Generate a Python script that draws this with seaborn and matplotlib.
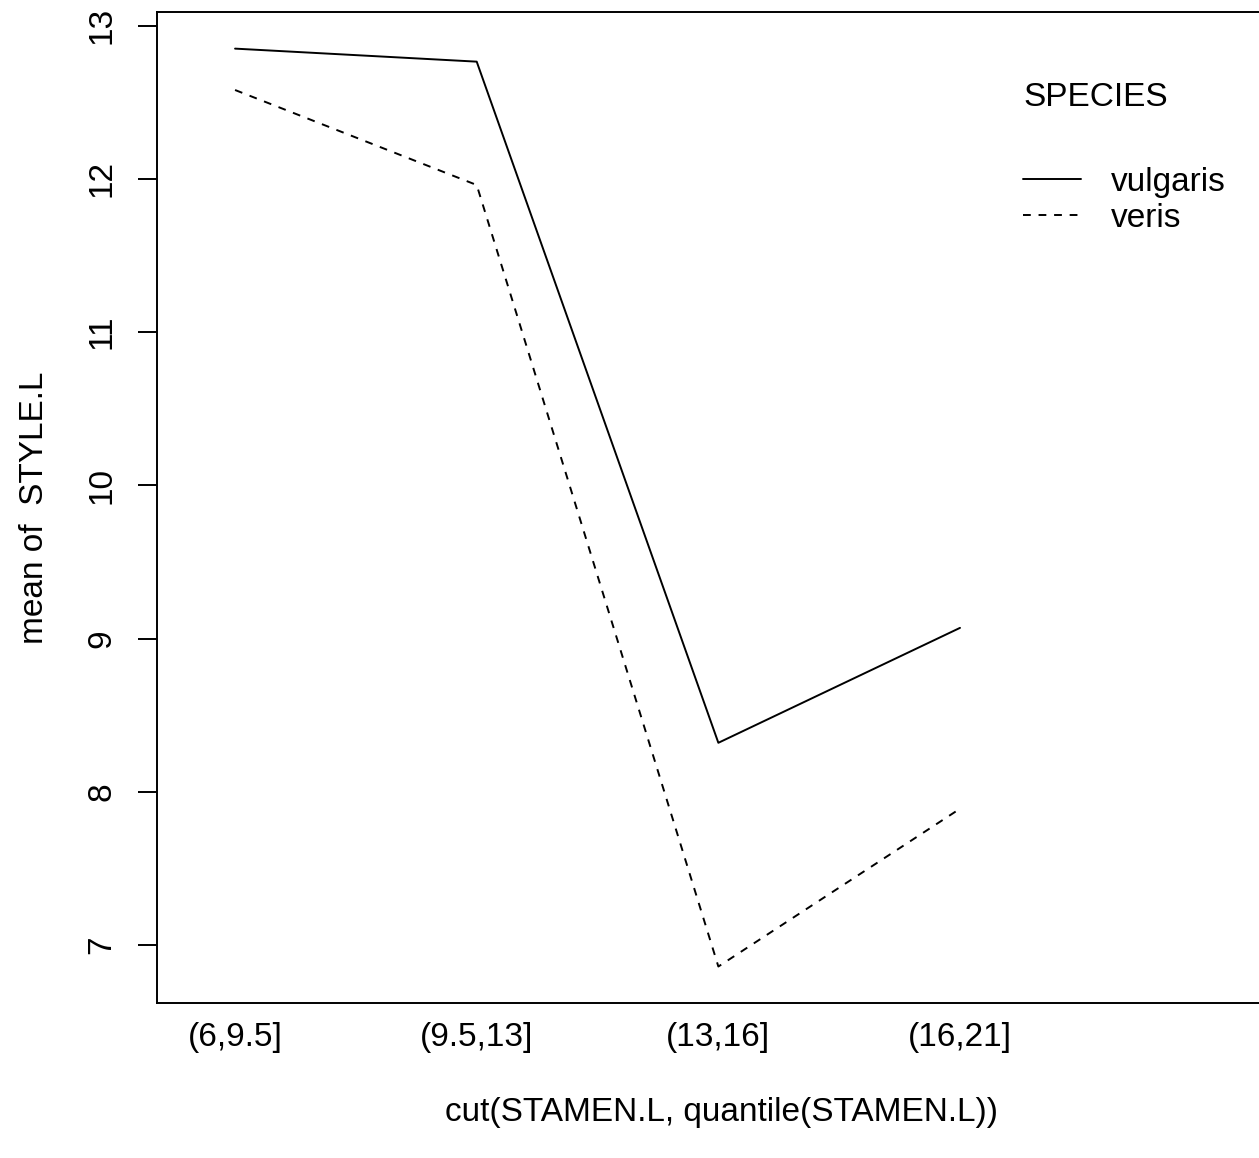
import matplotlib
matplotlib.use("Agg")
import matplotlib.pyplot as plt
import seaborn as sns
import pandas as pd

categories = ["(6,9.5]", "(9.5,13]", "(13,16]", "(16,21]"]
vulgaris = [12.85, 12.765, 8.32, 9.07]
veris = [12.58, 11.96, 6.86, 7.89]
species = ["vulgaris", "veris"]

df = pd.DataFrame({
    "bin": categories * 2,
    "value": vulgaris + veris,
    "SPECIES": ["vulgaris"] * 4 + ["veris"] * 4,
})

sns.set_style("ticks")
plt.rcParams["font.family"] = ["Liberation Sans", "DejaVu Sans"]
plt.rcParams["font.size"] = 24
plt.rcParams["text.color"] = "black"
plt.rcParams["axes.labelcolor"] = "black"

FS = 24
fig = plt.figure(figsize=(12.59, 11.58), dpi=100)
ax = fig.add_axes([157 / 1259, 1 - 1003 / 1158, (1286 - 157) / 1259, (1003 - 12) / 1158])

sns.lineplot(data=df, x="bin", y="value", hue="SPECIES", style="SPECIES",
             hue_order=species, style_order=species,
             palette=["black", "black"], dashes={"vulgaris": "", "veris": (4, 4)},
             sort=False, linewidth=1.4, ax=ax, legend=True)

ax.set_xlim(-0.323, 4.349)
ax.set_ylim(6.622, 13.089)
ax.set_yticks([7, 8, 9, 10, 11, 12, 13])
for s in ax.spines.values():
    s.set_linewidth(1.4)
    s.set_color("black")

ax.tick_params(axis="y", length=13.7, width=1.4, pad=15, labelsize=FS, colors="black")
ax.tick_params(axis="x", length=0, pad=13.5, labelsize=FS, colors="black")
for lab in ax.get_yticklabels():
    lab.set_rotation(90)
    lab.set_va("center")

ax.set_xlabel("cut(STAMEN.L, quantile(STAMEN.L))", fontsize=FS, labelpad=32, color="black")
ax.set_ylabel("mean of  STYLE.L", fontsize=FS, labelpad=26, color="black")

handles, labels = ax.get_legend_handles_labels()
leg = ax.legend(handles, labels, title="SPECIES\n", frameon=False,
                loc="upper left", bbox_to_anchor=(993 / 1259, 1 - 52 / 1158),
                bbox_transform=fig.transFigure, fontsize=FS, title_fontsize=FS,
                handlelength=1.75, handletextpad=0.88, labelspacing=0.15)
leg._legend_box.align = "left"
leg.get_title().set_color("black")
leg.get_title().set_linespacing(1.75)
for t in leg.get_texts():
    t.set_color("black")
for h in leg.get_lines():
    h.set_linewidth(1.4)

fig.savefig("out.png", dpi=100)
